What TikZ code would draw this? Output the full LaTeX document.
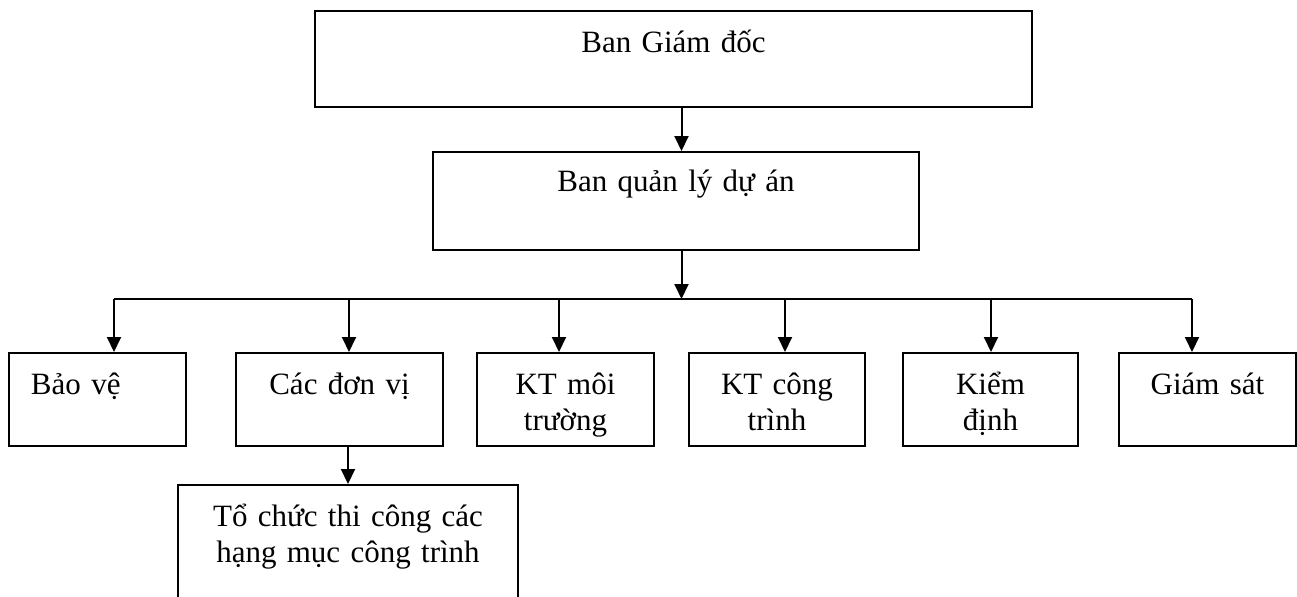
\documentclass[tikz,border=0pt]{standalone}
\usepackage{fontspec}
\setmainfont{Liberation Serif}
\usepackage{tikz}
\usetikzlibrary{arrows.meta}
\tikzset{
  box/.style={
    draw,
    line width=1pt,
    inner sep=0pt,
    anchor=north,
    align=center,
    text height=20.5pt,
    text depth=26pt,
    font=\fontsize{15.5}{18}\selectfont},
  arr/.style={line width=1pt, -{Triangle[length=7.5pt,width=7pt]}},
  }

\begin{document}
\begin{tikzpicture}[x=1pt,y=1pt]
            \useasboundingbox (0,0) rectangle (648.5,298);

            % Top levels
            \node[box, text width=358.5pt, text depth=27.5pt] (gd) at (336.75,293) {Ban Giám đốc};
            \node[box, text width=243pt, text height=19.5pt, text depth=29.5pt] (qlda) at (338,222.5) {Ban quản lý dự án};

            % Departments
            \node[box, text width=66.5pt, inner xsep=11pt, align=left] (bv) at (48.75,122) {Bảo vệ};
            \node[box, text width=103.5pt] (dv) at (169.75,122) {Các đơn vị};
            \node[box, text width=88.5pt] (mt) at (282.75,122) {KT môi\\trường};
            \node[box, text width=88pt] (ct) at (388.5,122) {KT công\\trình};
            \node[box, text width=87.5pt] (kd) at (495.25,122) {Kiểm\\định};
            \node[box, text width=88.5pt] (gs) at (603.75,122) {Giám sát};
            \node[box, text width=170pt, text depth=46pt] (tc) at (174,56) {Tổ chức thi công các\\hạng mục công trình};

            % Arrows
            \coordinate (spine) at (340.75,0);
            \coordinate (busL) at (57,148.5);
            \coordinate (busR) at (596,148.5);
            \draw[arr] (gd.south -| spine) -- (qlda.north -| spine);
            \draw[arr] (qlda.south -| spine) -- (busL -| spine);
            \draw[line width=1pt] (busL) -- (busR);
            \foreach \n/\x in {bv/57, dv/174.5, mt/279.5, ct/392.5, kd/495.5, gs/596}{
                \coordinate (t-\n) at (\x,148.5);
                \draw[arr] (t-\n) -- (t-\n |- \n.north);
            }
            \draw[arr] (dv.south -| tc.north) -- (tc.north);
        \end{tikzpicture}
\end{document}
